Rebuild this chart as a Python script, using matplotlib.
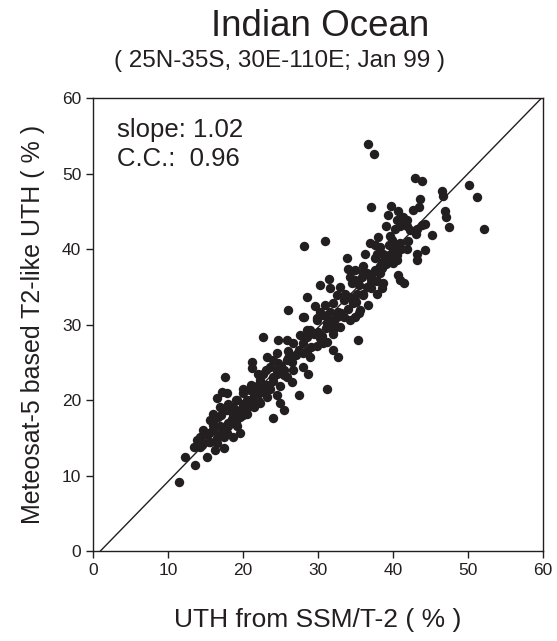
import numpy as np
from matplotlib import pyplot as plt

plt.rcParams["font.family"] = ["Liberation Sans", "DejaVu Sans"]

# UTH from SSM/T-2 (%) vs Meteosat-5 T2-like UTH (%)
ssmt2_uth = [
  36.7, 37.5, 42.9, 43.8, 50.1, 51.2, 52.1, 46.5, 46.6, 46.9, 47.1, 47.4,
  43.6, 37.1, 39.7, 40.7, 39.3, 40.5, 41.1, 41.8, 42.3, 41.3, 40.9, 40.3,
  41.8, 42.7, 43.4, 43.2, 43.8, 44.3, 45.2, 44.2, 43.2, 43.2, 41.9, 39.0,
  39.6, 39.8, 39.4, 40.3, 40.5, 40.0, 39.4, 40.9, 38.0, 36.9, 36.2, 37.6,
  38.3, 37.8, 38.7, 37.6, 38.5, 38.3, 37.6, 38.9, 40.7, 40.9, 41.5, 38.7,
  38.5, 37.8, 37.1, 36.5, 36.0, 37.1, 37.1, 37.8, 33.8, 34.0, 34.3, 34.9,
  34.5, 35.4, 35.8, 31.4, 30.3, 30.9, 28.1, 31.6, 32.5, 32.9, 33.6, 33.4,
  34.3, 34.7, 35.2, 36.0, 36.7, 35.6, 34.9, 35.4, 34.3, 33.4, 32.7, 32.0,
  31.6, 30.9, 29.6, 28.5, 30.3, 29.8, 28.0, 31.2, 32.0, 32.9, 31.6, 28.9,
  29.8, 28.5, 35.3, 39.6, 40.0, 34.9, 36.0, 38.3,
  26.0, 28.1, 29.8, 30.7, 31.6, 32.3, 22.6, 24.7, 25.8, 26.7, 27.6, 28.5,
  29.4, 30.3, 31.2, 32.0, 27.4, 28.0, 28.9, 29.8, 30.7, 32.0, 32.7, 31.2,
  27.4, 28.7, 28.0, 26.7, 25.8, 24.5, 24.7, 24.0, 23.2, 21.2, 21.2, 22.7,
  23.6, 24.5, 25.8, 26.5, 25.4, 24.9, 24.5, 24.9, 25.4, 24.0, 22.3, 21.8,
  20.9, 20.0, 19.2, 17.8, 17.2, 17.6, 16.5, 16.9, 16.0, 16.7, 17.8, 18.7,
  19.6, 20.5, 21.4, 22.3, 23.2, 23.6, 22.7, 20.0, 18.7, 18.3, 19.2, 19.6,
  18.7, 17.8, 16.9, 16.0, 15.6, 14.7, 14.3, 13.8, 13.4, 14.7, 15.6, 16.5,
  17.4, 16.3, 15.2, 14.3, 12.3, 13.6, 11.4, 14.7, 15.4, 16.0, 17.4, 17.8,
  20.5, 21.8, 19.6,
  18.0, 19.0, 20.0, 21.0, 22.0, 23.0, 24.0, 25.0, 26.0, 27.0, 21.0, 22.0,
  19.0, 18.0, 17.0, 16.0, 15.0, 20.0, 23.0, 26.0, 28.0, 29.0, 30.0, 31.0,
  33.0, 34.0, 35.0, 36.0, 37.0, 38.0, 39.0, 40.0, 41.0, 42.0, 43.0,
  17.5, 18.5, 19.5, 20.5, 21.5, 22.5, 23.5, 24.5, 19.0, 20.0, 21.0, 22.0,
  23.0, 17.0, 16.5, 18.0, 20.5, 22.5, 24.0, 25.5, 26.5, 27.5, 28.5, 30.5,
  32.5, 34.5, 36.5, 38.5, 40.5, 15.5, 14.5, 16.0,
]
meteosat_uth = [
  53.9, 52.6, 49.4, 49.0, 48.5, 46.9, 42.6, 47.7, 47.0, 45.0, 44.3, 42.9,
  46.6, 45.6, 45.7, 45.0, 44.5, 43.8, 43.4, 43.0, 42.5, 44.3, 43.0, 42.7,
  43.8, 45.2, 45.5, 42.7, 43.2, 43.3, 41.8, 39.9, 39.4, 38.6, 40.0, 43.0,
  41.7, 41.2, 40.5, 40.5, 39.2, 38.1, 39.2, 40.8, 41.6, 40.8, 39.3, 40.5,
  40.2, 39.4, 39.4, 38.8, 38.3, 37.7, 37.2, 39.0, 36.6, 35.9, 35.5, 35.5,
  34.8, 35.7, 36.3, 36.8, 36.8, 35.5, 34.8, 34.1, 38.8, 37.4, 36.3, 35.9,
  35.5, 35.2, 36.3, 36.0, 35.2, 41.0, 40.4, 34.8, 33.9, 35.0, 34.1, 33.2,
  33.7, 32.8, 34.1, 33.9, 32.6, 31.9, 31.0, 31.5, 30.6, 31.0, 31.7, 32.8,
  31.7, 32.6, 32.4, 33.7, 31.7, 30.6, 31.0, 30.2, 29.3, 29.7, 30.6, 29.3,
  28.8, 28.4, 27.9, 39.0, 39.9, 37.2, 37.7, 36.8,
  31.9, 31.0, 30.8, 31.3, 30.2, 29.9, 28.4, 27.9, 27.9, 27.5, 28.6, 29.3,
  28.8, 28.2, 27.7, 28.8, 26.6, 26.2, 25.7, 27.1, 27.5, 26.6, 25.7, 21.5,
  20.7, 23.5, 24.4, 24.0, 25.3, 26.2, 24.9, 25.3, 25.7, 25.1, 24.2, 23.5,
  24.4, 24.0, 23.1, 22.4, 23.3, 21.8, 20.7, 19.6, 18.7, 17.6, 22.6, 21.8,
  21.3, 20.9, 20.0, 20.9, 21.1, 23.1, 20.2, 19.1, 18.2, 17.8, 18.7, 18.2,
  17.8, 18.2, 19.1, 19.6, 20.4, 21.5, 21.1, 19.1, 19.1, 16.9, 16.5, 15.6,
  15.1, 15.6, 16.5, 16.7, 17.4, 16.0, 15.1, 14.7, 13.8, 14.3, 14.5, 14.3,
  13.6, 13.4, 12.5, 13.8, 12.5, 11.4, 9.2, 15.4, 15.6, 16.0, 15.1, 16.7,
  20.0, 20.7, 18.7,
  17.0, 18.5, 19.5, 20.0, 21.0, 22.0, 23.0, 24.5, 25.5, 26.0, 22.0, 23.5,
  20.0, 19.5, 18.0, 16.0, 15.5, 21.5, 24.0, 26.5, 27.5, 27.0, 29.0, 29.5,
  31.5, 32.0, 33.0, 34.0, 36.0, 37.0, 38.0, 39.0, 40.0, 41.0, 42.0,
  16.0, 17.5, 18.0, 19.0, 20.5, 21.5, 22.0, 23.5, 17.0, 18.0, 19.5, 20.0,
  21.5, 15.5, 15.0, 16.5, 19.5, 22.0, 22.5, 24.0, 25.0, 26.5, 26.5, 28.5,
  31.0, 33.5, 35.0, 37.5, 38.5, 14.5, 14.0, 17.0,
]

fit_slope = 1.02
fit_intercept = -1.0
cc = 0.96

fig = plt.figure(figsize=(5.57, 6.41), dpi=100)
ax = fig.add_axes([0.167, 0.1404, 0.808, 0.7067])

ax.scatter(ssmt2_uth, meteosat_uth, s=46, color="#231f20", linewidths=0,
           zorder=3)

fit_x = np.array([-fit_intercept / fit_slope, 60])
ax.plot(fit_x, fit_slope * fit_x + fit_intercept, color="#231f20", lw=1.0,
        zorder=2)

ax.set_xlim(0, 60)
ax.set_ylim(0, 60)
ax.set_xticks(range(0, 61, 10))
ax.set_yticks(range(0, 61, 10))
ax.tick_params(direction="out", length=5, width=1, labelsize=12.5,
               top=False, right=False, colors="#231f20")
for spine in ax.spines.values():
  spine.set_linewidth(1)
  spine.set_color("#231f20")

ax.text(0.054, 0.93, f"slope: {fit_slope:.2f}", transform=ax.transAxes,
        fontsize=18.5, color="#231f20", va="center")
ax.text(0.054, 0.865, f"C.C.:  {cc:.2f}", transform=ax.transAxes,
        fontsize=18.5, color="#231f20", va="center")

ax.set_xlabel("UTH from SSM/T-2 ( % )", fontsize=19, color="#231f20",
              labelpad=22)
ax.set_ylabel("Meteosat-5 based T2-like UTH ( % )", fontsize=18,
              color="#231f20", labelpad=12)

fig.text(320 / 557, 1 - 27 / 641, "Indian Ocean", fontsize=26.5,
         ha="center", va="center", color="#231f20")
fig.text(279 / 557, 1 - 61 / 641, "( 25N-35S, 30E-110E; Jan 99 )",
         fontsize=17.5, ha="center", va="center", color="#231f20")

plt.savefig("out.png", dpi=100)
